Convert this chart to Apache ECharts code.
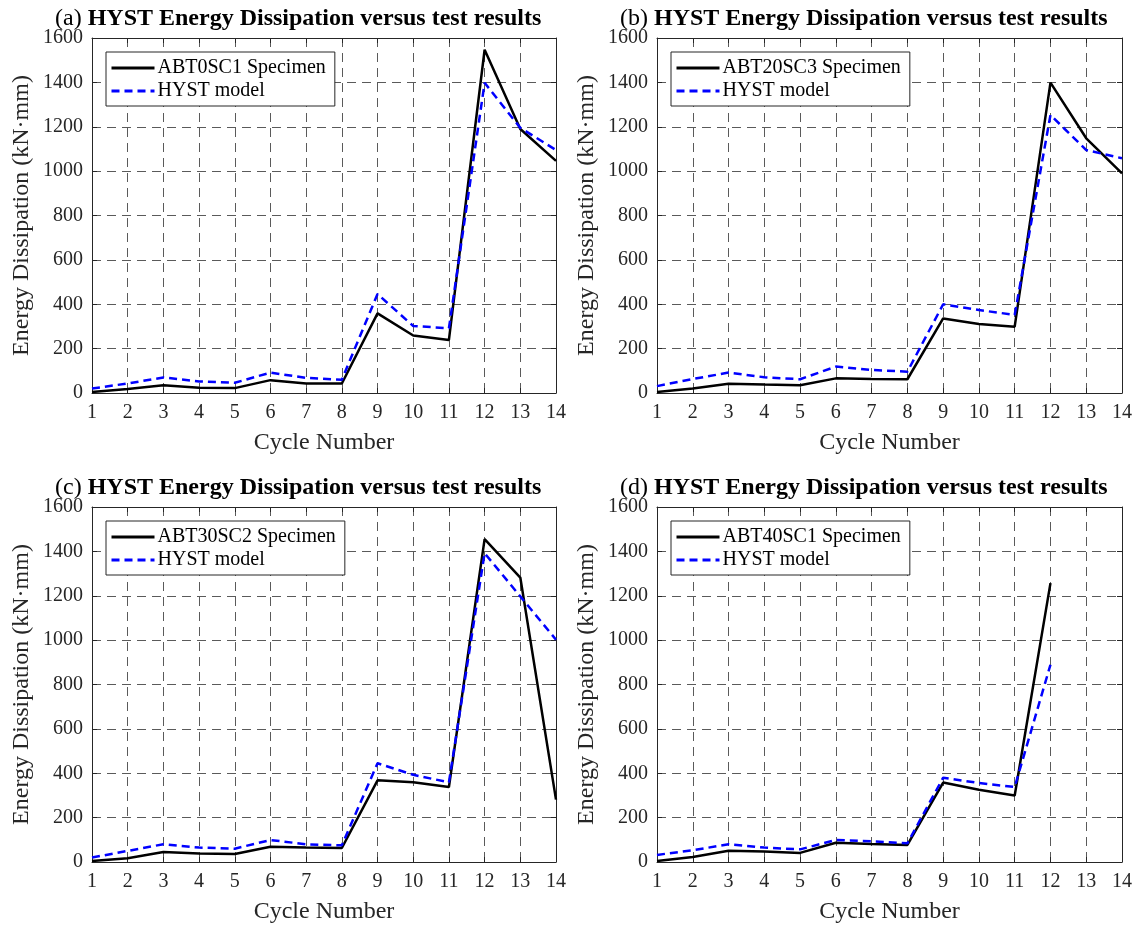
<!DOCTYPE html>
<html>
<head>
<meta charset="utf-8">
<script src="https://cdn.jsdelivr.net/npm/echarts@6/dist/echarts.min.js"></script>
<style>html,body{margin:0;padding:0;background:#fff;}#c{width:1137px;height:930px;}</style>
</head>
<body>
<div id="c"></div>
<script>
const cycles = [1,2,3,4,5,6,7,8,9,10,11,12,13,14];
const yTicks = [0,200,400,600,800,1000,1200,1400,1600];

const panelLetters = ['(a)','(b)','(c)','(d)'];
const specimenNames = ['ABT0SC1 Specimen','ABT20SC3 Specimen','ABT30SC2 Specimen','ABT40SC1 Specimen'];
const titleText = 'HYST Energy Dissipation versus test results';
const modelName = 'HYST model';

const specA = [5,18,35,24,22,58,43,43,359,259,239,1547,1190,1046];
const hystA = [20,43,70,52,46,92,68,60,446,302,292,1398,1195,1095];
const specB = [5,20,42,38,35,66,63,62,336,311,299,1399,1148,990];
const hystB = [31,63,92,71,62,119,104,96,400,374,352,1253,1095,1058];
const specC = [5,17,45,38,36,69,65,63,368,359,338,1455,1282,281];
const hystC = [20,50,80,65,60,99,80,75,445,393,359,1392,1197,1002];
const specD = [5,23,51,47,41,87,81,77,358,326,300,1257];
const hystD = [32,53,80,65,57,99,93,84,380,356,338,889];

const specAll = [specA,specB,specC,specD];
const hystAll = [hystA,hystB,hystC,hystD];

const FONT = 'Liberation Serif';
const AX = '#262626';
const grids = [
  {left:92, top:38, width:464, height:355},
  {left:657, top:38, width:465, height:355},
  {left:92, top:507, width:464, height:355},
  {left:657, top:507, width:465, height:355}
];

const xAxes = [], yAxes = [], series = [], legends = [], titles = [];
const pair = vals => vals.map((v,i)=>[cycles[i], v]);
const plain = v => String(v);

grids.forEach((g, i) => {
  const xBase = {
    type:'value', gridIndex:i, min:cycles[0], max:cycles[cycles.length-1], interval:1,
    axisLine:{show:true, onZero:false, lineStyle:{color:AX, width:1}},
    axisTick:{show:true, inside:true, length:5, lineStyle:{color:AX}}
  };
  xAxes.push(Object.assign({}, xBase, {
    position:'bottom',
    name:'Cycle Number', nameLocation:'middle', nameGap:38,
    nameTextStyle:{fontFamily:FONT, fontSize:24, color:AX},
    axisLabel:{show:true, margin:10, fontFamily:FONT, fontSize:20, color:AX, formatter:plain},
    splitLine:{show:true, lineStyle:{color:'#5a5a5a', width:1, type:[9,6]}}
  }));
  xAxes.push(Object.assign({}, xBase, {
    position:'top', axisLabel:{show:false}, splitLine:{show:false}
  }));
  const yBase = {
    type:'value', gridIndex:i, min:yTicks[0], max:yTicks[yTicks.length-1], interval:yTicks[1]-yTicks[0],
    axisLine:{show:true, onZero:false, lineStyle:{color:AX, width:1}},
    axisTick:{show:true, inside:true, length:5, lineStyle:{color:AX}}
  };
  yAxes.push(Object.assign({}, yBase, {
    position:'left',
    name:'Energy Dissipation (kN·mm)', nameLocation:'middle', nameGap:58, nameRotate:90,
    nameTextStyle:{fontFamily:FONT, fontSize:24, color:AX},
    axisLabel:{show:true, margin:9, fontFamily:FONT, fontSize:20, color:AX, formatter:plain},
    splitLine:{show:true, lineStyle:{color:'#5a5a5a', width:1, type:[9,6]}}
  }));
  yAxes.push(Object.assign({}, yBase, {
    position:'right', axisLabel:{show:false}, splitLine:{show:false}
  }));

  series.push({
    type:'line', name:specimenNames[i], xAxisIndex:i*2, yAxisIndex:i*2,
    data:pair(specAll[i]), symbol:'none', z:3,
    lineStyle:{color:'#000000', width:2.5, type:'solid'},
    itemStyle:{color:'#000000'}
  });
  series.push({
    type:'line', name:modelName, xAxisIndex:i*2, yAxisIndex:i*2,
    data:pair(hystAll[i]), symbol:'none', z:4,
    lineStyle:{color:'#0000ff', width:2.5, type:[8,5]},
    itemStyle:{color:'#0000ff'}
  });

  legends.push({
    orient:'vertical', left:g.left+14, top:g.top+14,
    data:[specimenNames[i], modelName],
    itemWidth:43, itemHeight:14, itemGap:3,
    padding:[6,9,5,4],
    itemStyle:{opacity:0, borderWidth:0},
    lineStyle:{width:3},
    borderColor:AX, borderWidth:1, backgroundColor:'#ffffff',
    textStyle:{fontFamily:FONT, fontSize:20, color:'#000', padding:[0,0,0,-2], lineHeight:20},
    selectedMode:false
  });

  titles.push({
    text:'{n|' + panelLetters[i] + '} {b|' + titleText + '}',
    left:g.left-42, top:g.top-36,
    textStyle:{fontFamily:FONT, fontSize:24, color:'#000',
      rich:{
        n:{fontFamily:FONT, fontSize:24, fontWeight:'normal', color:'#000'},
        b:{fontFamily:FONT, fontSize:24, fontWeight:'bold', color:'#000'}
      }}
  });
});

const chart = echarts.init(document.getElementById('c'), null, {renderer:'canvas'});
chart.setOption({
  animation:false,
  backgroundColor:'#ffffff',
  title:titles,
  grid:grids,
  xAxis:xAxes,
  yAxis:yAxes,
  legend:legends,
  series:series
});
</script>
</body>
</html>
